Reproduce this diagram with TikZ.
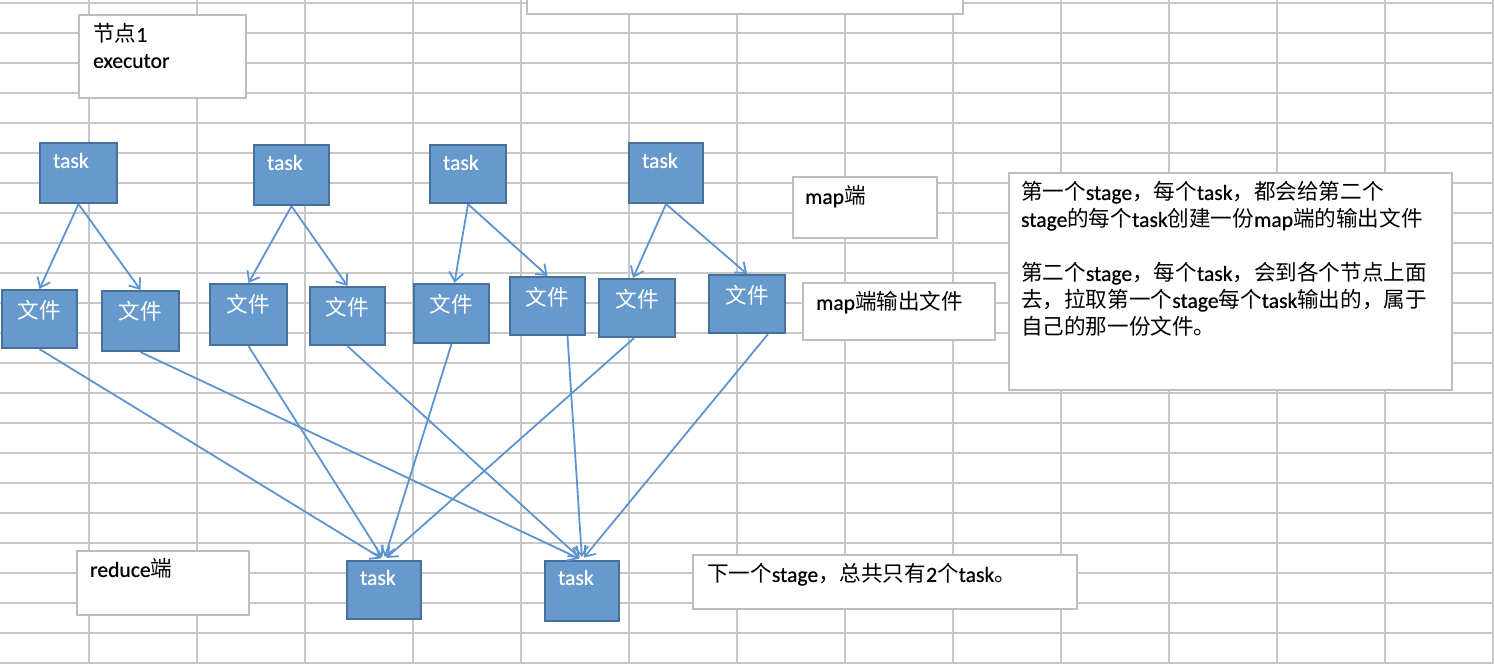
\documentclass[tikz,border=0pt]{standalone}
\usepackage{fontspec}
\setmainfont{Carlito}[FakeBold=0.6]
\newfontfamily\cjk{Noto Sans CJK SC}
\usetikzlibrary{arrows.meta,calc,fit}
\newcommand\zhs[1]{{\cjk #1}}
\definecolor{gridc}{HTML}{C8C8C8}
\definecolor{boxfill}{HTML}{6699CC}
\definecolor{boxline}{HTML}{47709C}
\definecolor{graybd}{HTML}{BEBEBE}
\definecolor{arrowc}{HTML}{5E93D1}
\begin{document}
\begin{tikzpicture}[x=1pt,y=-1pt,
  every node/.style={font=\fontsize{21.6}{27}\selectfont, inner sep=0pt},
  bluebox/.style={draw=boxline, fill=boxfill, line width=2.2pt, inner sep=0pt},
  graybox/.style={draw=graybd, fill=white, line width=2.2pt, inner sep=0pt},
  tlbl/.style={anchor=base west, text=white, xshift=14pt, yshift=-26pt},
  flbl/.style={anchor=base, text=white, yshift=-30pt},
  glbl/.style={anchor=base west, text=black},
  conn/.style={draw=arrowc, line width=1.8pt, -{Straight Barb[length=9pt,width=14pt,line width=1.8pt]}},
  gridline/.style={draw=gridc, line width=2pt}
]
\useasboundingbox (0,0) rectangle (1494,664);
% spreadsheet grid
\foreach \k in {0,...,13} \draw[gridline] ({89+108*\k},0) -- ({89+108*\k},664);
\foreach \k in {0,...,22} \draw[gridline] (0,{3+30*\k}) -- (1494,{3+30*\k});

% gray text boxes
\node[graybox, fit={(79,15) (246,98)},
  label={[glbl, xshift=15pt, yshift=-28pt]north west:{\begin{tabular}[t]{@{}l@{}}\zhs{节点}1\\[-1pt] executor\end{tabular}}}] (exec) {};
\node[graybox, fit={(527,-10) (963,14)}] (topbox) {};
\node[graybox, fit={(793,177) (937,238)},
  label={[glbl, xshift=13pt, yshift=-28pt]north west:{map\zhs{端}}}] (mapend) {};
\node[graybox, fit={(803,283) (995,340)},
  label={[glbl, xshift=14pt, yshift=-28pt]north west:{map\zhs{端输出文件}}}] (mapout) {};
\node[graybox, fit={(1009,173) (1452,390)},
  label={[glbl, xshift=13pt, yshift=-28pt]north west:{\begin{tabular}[t]{@{}l@{}}
\zhs{第一个}stage\zhs{，每个}task\zhs{，都会给第二个}\\
stage\zhs{的每个}task\zhs{创建一份}map\zhs{端的输出文件}\\
\\
\zhs{第二个}stage\zhs{，每个}task\zhs{，会到各个节点上面}\\
\zhs{去，拉取第一个}stage\zhs{每个}task\zhs{输出的，属于}\\
\zhs{自己的那一份文件。}
\end{tabular}}}] (note) {};
\node[graybox, fit={(77,551) (249,615)},
  label={[glbl, xshift=14pt, yshift=-27pt]north west:{reduce\zhs{端}}}] (redend) {};
\node[graybox, fit={(693,555) (1077,609)},
  label={[glbl, xshift=15pt, yshift=-28pt]north west:{\zhs{下一个}stage\zhs{，总共只有}2\zhs{个}task\zhs{。}}}] (next) {};

% map tasks
\node[bluebox, fit={(40,143) (117,203)}, label={[tlbl]north west:task}] (t1) {};
\node[bluebox, fit={(254,145) (329,205)}, label={[tlbl]north west:task}] (t2) {};
\node[bluebox, fit={(430,145) (506,203)}, label={[tlbl]north west:task}] (t3) {};
\node[bluebox, fit={(629,143) (703,203)}, label={[tlbl]north west:task}] (t4) {};

% map output files
\node[bluebox, fit={(2,290) (77,348)}, label={[flbl]north:\zhs{文件}}] (f1) {};
\node[bluebox, fit={(102,291) (179,351)}, label={[flbl]north:\zhs{文件}}] (f2) {};
\node[bluebox, fit={(210,284) (287,345)}, label={[flbl]north:\zhs{文件}}] (f3) {};
\node[bluebox, fit={(310,287) (385,345)}, label={[flbl]north:\zhs{文件}}] (f4) {};
\node[bluebox, fit={(414,284) (489,343)}, label={[flbl]north:\zhs{文件}}] (f5) {};
\node[bluebox, fit={(510,277) (585,335)}, label={[flbl]north:\zhs{文件}}] (f6) {};
\node[bluebox, fit={(599,279) (675,337)}, label={[flbl]north:\zhs{文件}}] (f7) {};
\node[bluebox, fit={(709,275) (785,333)}, label={[flbl]north:\zhs{文件}}] (f8) {};

% reduce tasks
\node[bluebox, fit={(347,561) (421,619)}, label={[tlbl, yshift=1pt]north west:task}] (r1) {};
\node[bluebox, fit={(545,561) (619,621)}, label={[tlbl, yshift=1pt]north west:task}] (r2) {};

% map task -> files
\draw[conn] (t1.south) -- (f1.north);
\draw[conn] (t1.south) -- (f2.north);
\draw[conn] (t2.south) -- (f3.north);
\draw[conn] (t2.south) -- (f4.north);
\draw[conn] (t3.south) -- ($(f5.north)+(3,0)$);
\draw[conn] (t3.south) -- (f6.north);
\draw[conn] (t4.south) -- ($(f7.north)+(-4,0)$);
\draw[conn] (t4.south) -- (f8.north);

% files -> reduce tasks
\draw[conn, shorten >=3pt] (f1.south) -- (r1.north);
\draw[conn, shorten >=3pt] (f3.south) -- (r1.north);
\draw[conn, shorten >=3pt] (f5.south) -- (r1.north);
\draw[conn, shorten >=3pt] ($(f7.south)+(-3,0)$) -- (r1.north);
\draw[conn, shorten >=3pt] (f2.south) -- (r2.north);
\draw[conn, shorten >=3pt] (f4.south) -- (r2.north);
\draw[conn, shorten >=3pt] ($(f6.south)+(20,0)$) -- (r2.north);
\draw[conn, shorten >=3pt] ($(f8.south)+(21,0)$) -- (r2.north);
\end{tikzpicture}
\end{document}
